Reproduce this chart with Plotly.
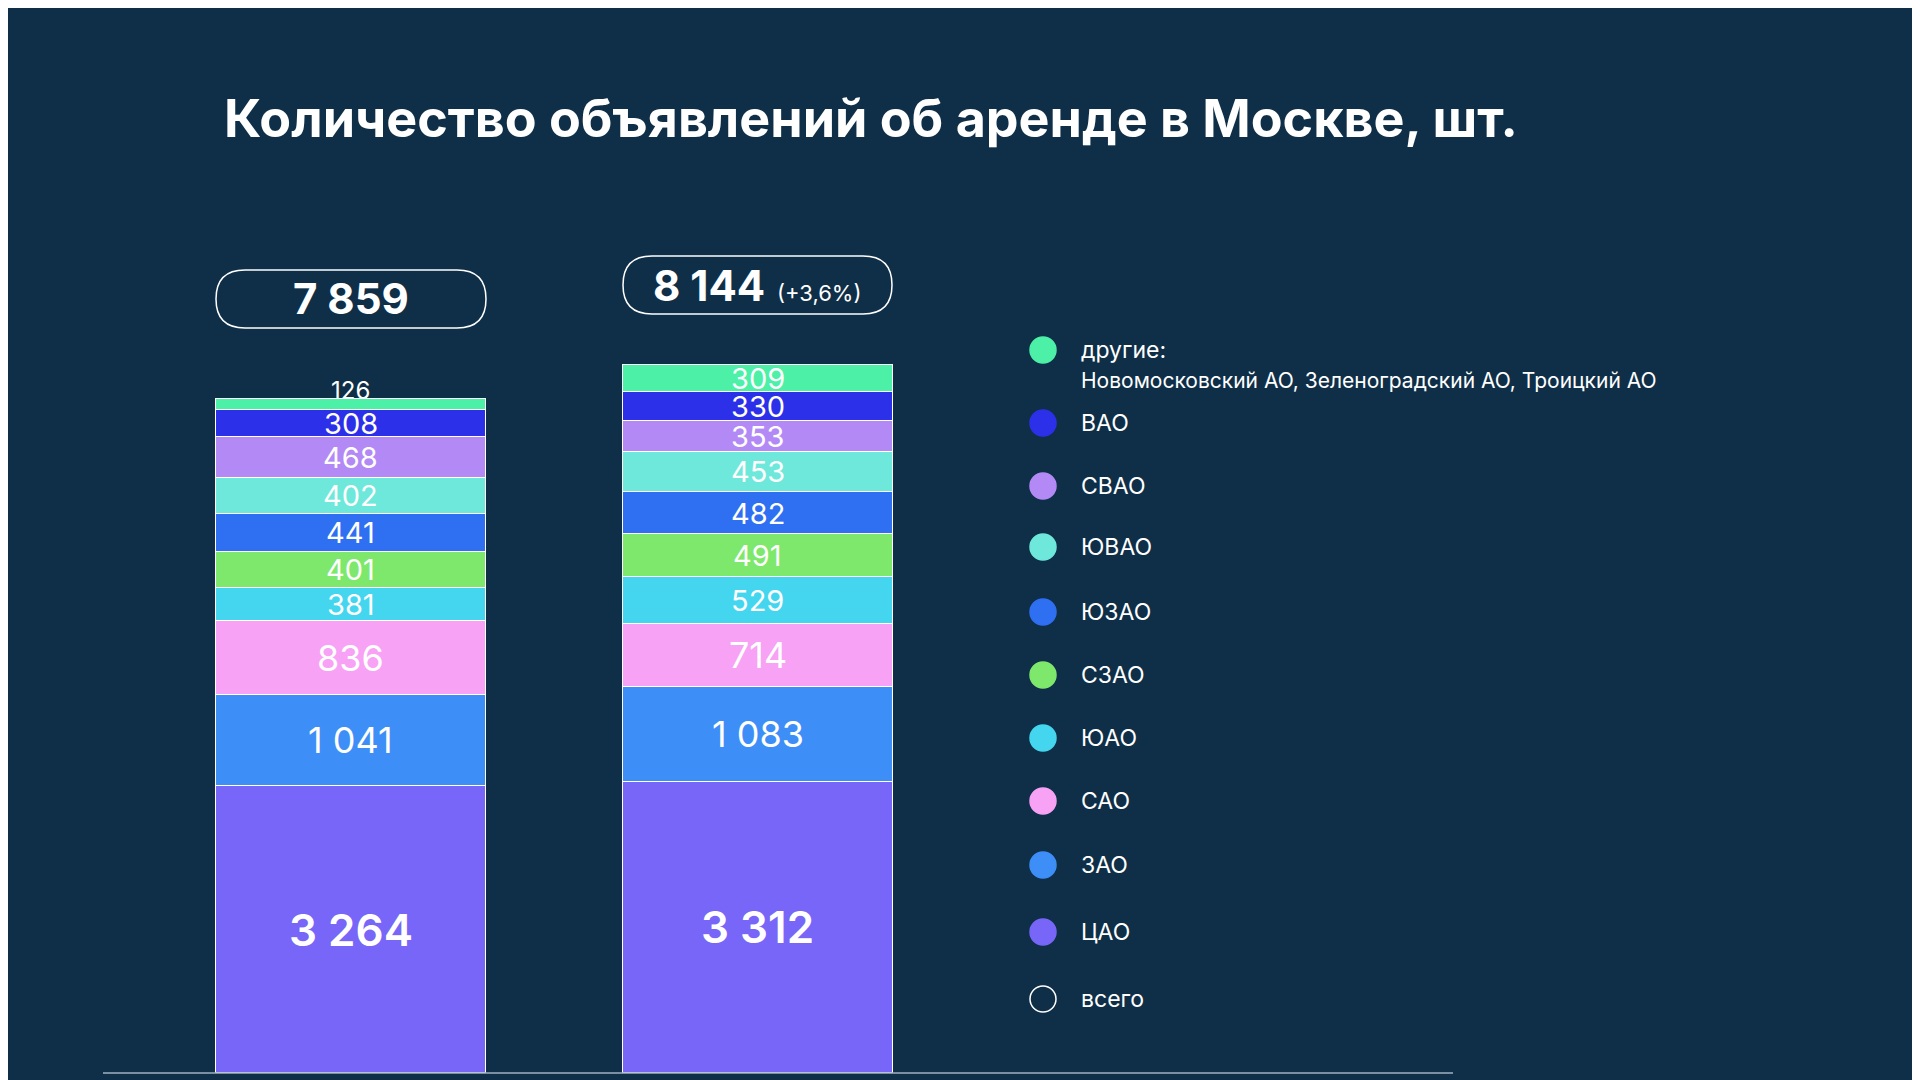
import plotly.graph_objects as go

years = ["2023", "2024"]
districts = ["ЦАО", "ЗАО", "САО", "ЮАО", "СЗАО", "ЮЗАО", "ЮВАО", "СВАО", "ВАО", "другие"]
vals_a = [3264, 1041, 836, 381, 401, 441, 402, 468, 308, 126]
vals_b = [3312, 1083, 714, 529, 491, 482, 453, 353, 330, 309]
totals = [7859, 8144]
growth = "(+3,6%)"
colors = ["#7766f7", "#3d8ef7", "#f7a2f5", "#45d6ef", "#7ee86c", "#2f6ff2",
          "#6ee8da", "#b38af5", "#2c30e8", "#4cf0a6"]
legend_labels = ["другие:", "ВАО", "СВАО", "ЮВАО", "ЮЗАО", "СЗАО", "ЮАО", "САО", "ЗАО", "ЦАО", "всего"]
legend_colors = ["#4cf0a6", "#2c30e8", "#b38af5", "#6ee8da", "#2f6ff2", "#7ee86c",
                 "#45d6ef", "#f7a2f5", "#3d8ef7", "#7766f7", None]
legend_y_px = [342, 415, 478, 539, 604, 667, 730, 793, 857, 924, 991]

BG = "#0f2f48"
W, H = 1920, 1080
fmt = lambda v: f"{v:,}".replace(",", " ")

fig = go.Figure()
for i, d in enumerate(districts):
    fig.add_trace(go.Bar(x=[0, 1], y=[vals_a[i], vals_b[i]], name=d, width=0.663,
                         marker=dict(color=colors[i], line=dict(color="white", width=1.5)),
                         hoverinfo="skip", showlegend=False))

def fsize(v):
    if v >= 3000: return 44
    if v >= 700: return 36
    if v >= 150: return 29
    return 24

for xi, vals in enumerate([vals_a, vals_b]):
    cum = 0
    for v in vals:
        mid = cum + v / 2
        cum += v
        fig.add_annotation(x=xi, y=mid, text=fmt(v), showarrow=False,
                           xanchor="center", yanchor="middle",
                           yshift=(14 if v < 150 else 0),
                           font=dict(family="Inter", size=fsize(v), color="white",
                                     weight=(600 if v >= 3000 else 400)))

def rrect(x0, y0, x1, y1, r):
    fx = lambda p: p / W
    fy = lambda p: 1 - p / H
    return (f"M {fx(x0+r)},{fy(y0)} L {fx(x1-r)},{fy(y0)} Q {fx(x1)},{fy(y0)} {fx(x1)},{fy(y0+r)} "
            f"L {fx(x1)},{fy(y1-r)} Q {fx(x1)},{fy(y1)} {fx(x1-r)},{fy(y1)} "
            f"L {fx(x0+r)},{fy(y1)} Q {fx(x0)},{fy(y1)} {fx(x0)},{fy(y1-r)} "
            f"L {fx(x0)},{fy(y0+r)} Q {fx(x0)},{fy(y0)} {fx(x0+r)},{fy(y0)} Z")

boxes = [(208, 262, 478, 320), (615, 248, 884, 306)]
for k, (x0, y0, x1, y1) in enumerate(boxes):
    fig.add_shape(type="path", path=rrect(x0, y0, x1, y1, 29), xref="paper", yref="paper",
                  line=dict(color="white", width=1.5))
    txt = f"<b>{fmt(totals[k])}</b>"
    if k == 1:
        txt += f" <span style='font-size:22px'>{growth}</span>"
    fig.add_annotation(x=(x0 + x1) / 2 / W, y=1 - (y0 + y1) / 2 / H, xref="paper", yref="paper",
                       xanchor="center", yanchor="middle",
                       text=txt, showarrow=False, font=dict(family="Inter", size=42, color="white"))

for lab, col, yp in zip(legend_labels, legend_colors, legend_y_px):
    cx, r = 1035, 13
    fig.add_shape(type="circle", xref="paper", yref="paper",
                  x0=(cx - r) / W, x1=(cx + r) / W, y0=1 - (yp + r) / H, y1=1 - (yp - r) / H,
                  fillcolor=col if col else "rgba(0,0,0,0)", line=dict(color="white" if col is None else col, width=1.5))
    fig.add_annotation(x=1071 / W, y=1 - yp / H, xref="paper", yref="paper", text=lab,
                       xanchor="left", yanchor="middle", showarrow=False,
                       font=dict(family="Inter", size=23, color="white"))
fig.add_annotation(x=1071 / W, y=1 - 372 / H, xref="paper", yref="paper",
                   text="Новомосковский АО, Зеленоградский АО, Троицкий АО",
                   xanchor="left", yanchor="middle", showarrow=False,
                   font=dict(family="Inter", size=21, color="white"))

fig.add_annotation(x=214 / W, y=1 - 110 / H, xref="paper", yref="paper", xanchor="left",
                   yanchor="middle",
                   text="<b>Количество объявлений об аренде в Москве, шт.</b>", showarrow=False,
                   font=dict(family="Inter", size=52, color="white", weight=900))

fig.add_shape(type="line", xref="paper", yref="paper", x0=95 / W, x1=1445 / W,
              y0=15 / H, y1=15 / H, line=dict(color="#9fb0bf", width=1.5))

fig.update_layout(width=W, height=H, barmode="stack", paper_bgcolor=BG, plot_bgcolor=BG,
                  margin=dict(l=0, r=0, t=0, b=0), bargap=0,
                  xaxis=dict(domain=[95 / W, 1445 / W], range=[-0.609, 2.708], visible=False),
                  yaxis=dict(domain=[15 / H, 1], range=[0, 12116], visible=False))
fig.write_html("out.html")
